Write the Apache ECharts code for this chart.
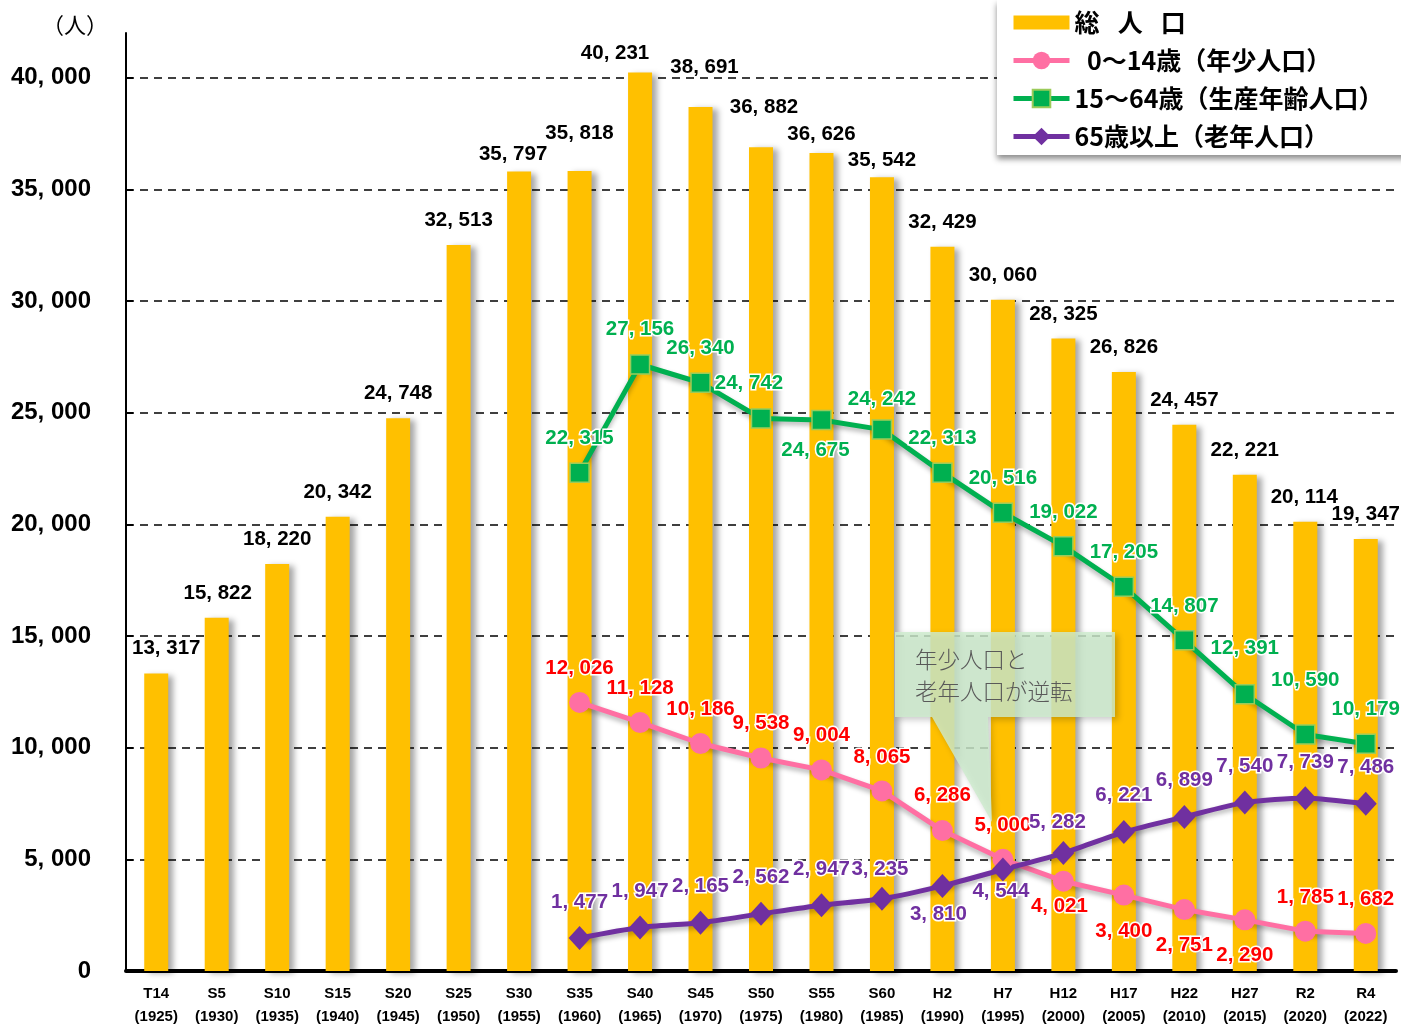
<!DOCTYPE html>
<html>
<head>
<meta charset="utf-8">
<script src="https://cdn.jsdelivr.net/npm/echarts@6/dist/echarts.min.js"></script>
<style>
html,body{margin:0;padding:0;background:#fff;}
#chart{width:1401px;height:1024px;}
</style>
</head>
<body>
<div id="chart"></div>
<script>
// ---- data ----
const eras = ['T14','S5','S10','S15','S20','S25','S30','S35','S40','S45','S50','S55','S60','H2','H7','H12','H17','H22','H27','R2','R4'];
const years = ['1925','1930','1935','1940','1945','1950','1955','1960','1965','1970','1975','1980','1985','1990','1995','2000','2005','2010','2015','2020','2022'];
const total = [13317,15822,18220,20342,24748,32513,35797,35818,40231,38691,36882,36626,35542,32429,30060,28325,26826,24457,22221,20114,19347];
const young = [null,null,null,null,null,null,null,12026,11128,10186,9538,9004,8065,6286,5000,4021,3400,2751,2290,1785,1682];
const working = [null,null,null,null,null,null,null,22315,27156,26340,24742,24675,24242,22313,20516,19022,17205,14807,12391,10590,10179];
const elderly = [null,null,null,null,null,null,null,1477,1947,2165,2562,2947,3235,3810,4544,5282,6221,6899,7540,7739,7486];
const yTicks = [0,5000,10000,15000,20000,25000,30000,35000,40000];
const seriesNames = ['総\u2002 人\u2002 口','\u20020～14歳（年少人口）','15～64歳（生産年齢人口）','65歳以上（老年人口）'];

// ---- label nudges (layout only) ----
const totalOff = [[10,-1],[1,0],[0,0],[0,0],[0,0],[0,0],[-6,7],[0,-13],[-25,5],[4,-15],[3,-15],[0,6],[0,8],[0,0],[0,0],[0,0],[0,0],[0,0],[0,0],[-1,0],[0,0]];
const youngOff = [null,null,null,null,null,null,null,[0,1],[0,1],[0,1],[0,0],[0,0],[0,1],[0,0],[0,1],[-4,60],[0,71],[0,71],[0,70],[0,1],[0,1]];
const workOff = [null,null,null,null,null,null,null,[0,0],[0,0],[0,0],[-12,0],[-6,65],[0,4],[0,0],[0,0],[0,1],[0,0],[0,1],[0,-11],[0,-19],[0,0]];
const oldOff = [null,null,null,null,null,null,null,[0,1],[0,0],[0,0],[0,0],[0,1],[-2,7],[-4,65],[-2,58],[-6,6],[0,0],[0,0],[0,0],[0,1],[0,0]];

const NUM_FONT = "'Liberation Sans',Arial,sans-serif";
const JP_FONT = "'Noto Sans CJK JP',sans-serif";
const fmt = v => String(v).replace(/\B(?=(\d{3})+(?!\d))/g, ', ');

function withLabels(values, offs){
  return values.map((v,i)=> v==null ? null : ({value:v, label:{offset: offs[i] || [0,0]}}));
}

const labelBase = {
  show:true, position:'top', distance:14,
  fontFamily:NUM_FONT, fontWeight:'bold', fontSize:20.5,
  textBorderColor:'#fff', textBorderWidth:3,
  formatter: p => fmt(p.value)
};

const chart = echarts.init(document.getElementById('chart'), null, {renderer:'canvas'});
chart.setOption({
  backgroundColor:'#fff',
  animation:false,
  grid:{left:126, right:5, top:33, bottom:53, containLabel:false, outerBoundsMode:'none'},
  legend:{
    orient:'vertical', left:997, top:0,
    itemWidth:56, itemHeight:22, itemGap:13,
    padding:[10,30,6,14],
    backgroundColor:'#fff',
    shadowColor:'rgba(0,0,0,0.45)', shadowBlur:6, shadowOffsetY:4, shadowOffsetX:0,
    textStyle:{fontFamily:JP_FONT, fontWeight:'bold', fontSize:25, color:'#000'},
    itemStyle:{shadowBlur:0, shadowOffsetX:0, shadowOffsetY:0},
    lineStyle:{width:5, shadowBlur:0, shadowOffsetY:0},
    data:[
      {name:seriesNames[0], icon:'path://M0,0h56v14h-56z'},
      {name:seriesNames[1]},
      {name:seriesNames[2]},
      {name:seriesNames[3]}
    ]
  },
  xAxis:{
    type:'category',
    data: eras.map((e,i)=> e + '\n(' + years[i] + ')'),
    axisLine:{lineStyle:{color:'#000', width:4}},
    axisTick:{show:false},
    axisLabel:{fontFamily:NUM_FONT, fontWeight:'bold', fontSize:15, color:'#000', lineHeight:23, margin:11, interval:0}
  },
  yAxis:{
    type:'value', min:0, max:42000, interval:5000,
    axisLine:{show:true, lineStyle:{color:'#000', width:2}},
    axisTick:{show:true, inside:true, length:7, lineStyle:{color:'#000', width:2}},
    axisLabel:{
      fontFamily:NUM_FONT, fontWeight:'bold', fontSize:24, color:'#000', margin:35,
      showMaxLabel:false,
      formatter: v => yTicks.indexOf(v) >= 0 ? fmt(v) : ''
    },
    splitLine:{show:true, showMaxLine:false, showMinLine:false, lineStyle:{color:'#000', width:1.5, type:[8,6]}}
  },
  series:[
    {
      name:seriesNames[0], type:'bar', barWidth:24, z:2,
      data: withLabels(total, totalOff),
      itemStyle:{color:'#FFC000', shadowColor:'rgba(0,0,0,0.35)', shadowBlur:6, shadowOffsetX:5, shadowOffsetY:2},
      label:Object.assign({}, labelBase, {color:'#000'})
    },
    {
      name:seriesNames[1], type:'line', z:4,
      data: withLabels(young, youngOff),
      symbol:'circle', symbolSize:21,
      lineStyle:{color:'#FF6FA3', width:5, shadowColor:'rgba(0,0,0,0.3)', shadowBlur:5, shadowOffsetY:3},
      itemStyle:{color:'#FF6FA3'},
      label:Object.assign({}, labelBase, {color:'#FF0000'})
    },
    {
      name:seriesNames[2], type:'line', z:5,
      data: withLabels(working, workOff),
      symbol:'rect', symbolSize:19,
      lineStyle:{color:'#00B050', width:5, shadowColor:'rgba(0,0,0,0.3)', shadowBlur:5, shadowOffsetY:3},
      itemStyle:{color:'#00B050', borderColor:'#9BCB5A', borderWidth:1.5},
      label:Object.assign({}, labelBase, {color:'#00B050'})
    },
    {
      name:seriesNames[3], type:'line', z:4, smooth:0.25,
      data: withLabels(elderly, oldOff),
      symbol:'diamond', symbolSize:[22,24],
      lineStyle:{color:'#7030A0', width:5, shadowColor:'rgba(0,0,0,0.3)', shadowBlur:5, shadowOffsetY:3},
      itemStyle:{color:'#7030A0'},
      label:Object.assign({}, labelBase, {color:'#7030A0'})
    }
  ],
  graphic:[
    {type:'text', left:42, top:14, z:10,
      style:{text:'（人）', fontFamily:JP_FONT, fontSize:22, fill:'#000'}},
    {type:'polygon', z:20,
      shape:{points:[[895,632],[1115,632],[1115,717],[988,717],[992,822],[932,717],[895,717]]},
      style:{fill:'rgba(205,236,205,0.82)', shadowColor:'rgba(0,0,0,0.25)', shadowBlur:6, shadowOffsetX:3, shadowOffsetY:3}},
    {type:'text', left:915, top:643, z:21,
      style:{text:'年少人口と\n老年人口が逆転', fontFamily:JP_FONT, fontSize:22.5, lineHeight:32, fill:'#595959', fontWeight:300}}
  ]
});
</script>
</body>
</html>
